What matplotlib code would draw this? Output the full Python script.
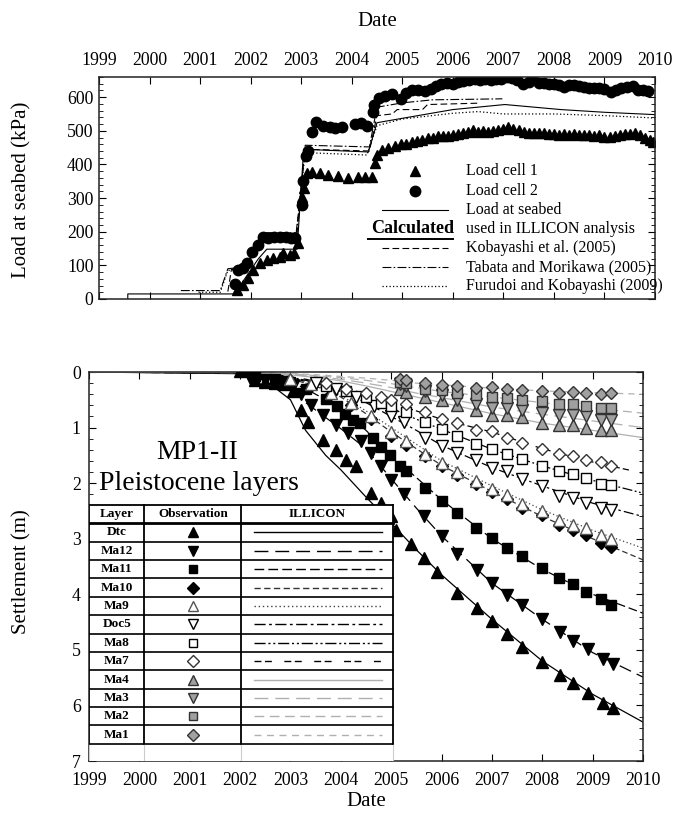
import matplotlib
matplotlib.use("Agg")
import matplotlib.pyplot as plt
from matplotlib.patches import Rectangle
from matplotlib.ticker import MultipleLocator

plt.rcParams['font.family'] = ['Liberation Serif', 'DejaVu Serif']

# ---------------- load at seabed (upper panel) ----------------
cell1_year = [2001.73, 2001.85, 2001.95, 2002.05, 2002.19, 2002.32, 2002.45, 2002.58, 2002.65, 2002.77,
              2002.85, 2002.94, 2003.02, 2003.06, 2003.12, 2003.22, 2003.38, 2003.54, 2003.73, 2003.93,
              2004.13, 2004.27, 2004.40, 2004.47, 2004.50, 2004.60, 2004.72, 2004.85, 2004.97, 2005.08,
              2005.20, 2005.30, 2005.40, 2005.50, 2005.60, 2005.70, 2005.80, 2005.90, 2006.00, 2006.10,
              2006.20, 2006.30, 2006.40, 2006.50, 2006.60, 2006.70, 2006.80, 2006.90, 2007.00, 2007.10,
              2007.20, 2007.30, 2007.40, 2007.50, 2007.60, 2007.70, 2007.80, 2007.90, 2008.00, 2008.10,
              2008.20, 2008.30, 2008.40, 2008.50, 2008.60, 2008.70, 2008.80, 2008.90, 2009.00, 2009.10,
              2009.20, 2009.30, 2009.40, 2009.50, 2009.60, 2009.70, 2009.80, 2009.90, 2009.97]
cell1_kpa = [27, 42, 62, 86, 107, 116, 122, 125, 136, 131,
             136, 166, 303, 330, 374, 378, 374, 368, 365, 359,
             362, 362, 362, 403, 427, 442, 450, 455, 460, 462,
             466, 470, 474, 478, 480, 483, 485, 483, 487, 490,
             492, 496, 503, 497, 500, 496, 500, 503, 506, 510,
             505, 503, 496, 492, 494, 492, 494, 490, 489, 488,
             490, 487, 489, 487, 486, 487, 484, 486, 482, 481,
             484, 488, 490, 489, 492, 487, 480, 472, 468]

cell2_year = [2001.69, 2001.75, 2001.85, 2001.93, 2002.03, 2002.15, 2002.25, 2002.35, 2002.47, 2002.58,
              2002.70, 2002.80, 2002.88, 2003.02, 2003.04, 2003.10, 2003.14, 2003.22, 2003.30, 2003.44,
              2003.57, 2003.67, 2003.80, 2004.07, 2004.19, 2004.30, 2004.43, 2004.45, 2004.53, 2004.66,
              2004.80, 2004.97, 2005.08, 2005.20, 2005.32, 2005.44, 2005.56, 2005.66, 2005.76, 2005.88,
              2006.00, 2006.10, 2006.21, 2006.32, 2006.43, 2006.54, 2006.64, 2006.75, 2006.85, 2006.96,
              2007.07, 2007.17, 2007.27, 2007.38, 2007.50, 2007.57, 2007.70, 2007.80, 2007.90, 2008.00,
              2008.10, 2008.20, 2008.30, 2008.40, 2008.50, 2008.60, 2008.70, 2008.80, 2008.90, 2009.00,
              2009.12, 2009.22, 2009.33, 2009.45, 2009.57, 2009.67, 2009.77, 2009.87]
cell2_kpa = [45, 86, 92, 107, 140, 160, 184, 180, 183, 185,
             183, 181, 180, 279, 350, 425, 440, 496, 525, 513,
             511, 509, 511, 519, 522, 513, 555, 576, 598, 603,
             610, 595, 613, 620, 622, 618, 625, 632, 638, 642,
             640, 645, 649, 652, 655, 652, 655, 652, 655, 655,
             659, 657, 650, 638, 645, 660, 641, 642, 638, 640,
             635, 630, 637, 635, 632, 630, 626, 628, 627, 623,
             615, 620, 627, 630, 632, 622, 620, 617]

illicon_year = [1999.57, 1999.57, 2001.68, 2002.15, 2002.32, 2002.92, 2003.05, 2004.33, 2004.50,
                2006.00, 2007.03, 2008.14, 2009.00, 2010.00]
illicon_kpa = [0, 15, 15, 119, 148, 148, 445, 437, 524, 563, 578, 563, 555, 548]

kobayashi_year = [2001.55, 2001.62, 2001.90, 2002.25, 2002.90, 2003.08, 2004.35, 2004.50, 2004.80,
                  2004.90, 2005.40, 2005.50, 2006.50]
kobayashi_kpa = [22, 88, 95, 195, 195, 445, 440, 545, 550, 563, 563, 578, 582]

tabata_year = [2000.62, 2001.40, 2001.55, 2001.90, 2002.22, 2002.92, 2003.08, 2004.35, 2004.50,
               2005.00, 2005.60, 2006.98]
tabata_kpa = [25, 25, 90, 95, 197, 197, 457, 452, 570, 583, 592, 595]

furudoi_year = [2000.97, 2001.40, 2001.55, 2001.90, 2002.25, 2002.90, 2003.08, 2004.30, 2004.50,
                2005.00, 2006.00, 2006.50, 2007.00, 2008.00, 2009.00, 2010.00]
furudoi_kpa = [20, 20, 85, 90, 190, 190, 435, 428, 515, 535, 552, 557, 550, 550, 545, 538]

# ---------------- settlement (lower panel) ----------------
layer_names = ['Dtc', 'Ma12', 'Ma11', 'Ma10', 'Ma9', 'Doc5', 'Ma8', 'Ma7', 'Ma4', 'Ma3', 'Ma2', 'Ma1']

dtc_year = [2002.0, 2002.3, 2002.5, 2002.7, 2002.9, 2003.05, 2003.2, 2003.35, 2003.65, 2003.9,
            2004.1, 2004.3, 2004.6, 2004.8, 2005.0, 2005.1, 2005.4, 2005.65, 2005.9, 2006.3,
            2006.7, 2007.0, 2007.3, 2007.6, 2008.0, 2008.35, 2008.6, 2008.9, 2009.2, 2009.4]
dtc_s = [-0.02, 0.15, 0.18, 0.2, 0.22, 0.35, 0.68, 0.9, 1.22, 1.4,
         1.58, 1.7, 2.18, 2.36, 2.6, 2.84, 3.1, 3.35, 3.6, 3.98,
         4.25, 4.48, 4.71, 4.94, 5.22, 5.45, 5.6, 5.78, 5.95, 6.04]

ma12_year = [2002.2, 2002.5, 2002.8, 2003.05, 2003.2, 2003.4, 2003.65, 2003.9, 2004.15, 2004.4,
             2004.6, 2004.8, 2005.0, 2005.25, 2005.65, 2006.0, 2006.3, 2006.7, 2007.0, 2007.3,
             2007.6, 2008.0, 2008.35, 2008.6, 2008.9, 2009.2, 2009.4]
ma12_s = [0.1, 0.15, 0.18, 0.25, 0.4, 0.6, 0.78, 0.95, 1.1, 1.25,
          1.45, 1.7, 1.95, 2.2, 2.6, 2.95, 3.28, 3.56, 3.8, 4.01,
          4.2, 4.45, 4.68, 4.84, 4.99, 5.17, 5.25]

ma11_year = [2002.3, 2002.7, 2003.0, 2003.3, 2003.7, 2003.92, 2004.08, 2004.25, 2004.38, 2004.64,
             2004.8, 2004.98, 2005.18, 2005.3, 2005.67, 2006.0, 2006.3, 2006.68, 2007.0, 2007.3,
             2007.6, 2008.0, 2008.33, 2008.6, 2008.87, 2009.17, 2009.37]
ma11_s = [0.08, 0.13, 0.18, 0.3, 0.49, 0.62, 0.75, 0.87, 0.92, 1.19,
          1.35, 1.5, 1.7, 1.78, 2.08, 2.32, 2.54, 2.8, 2.99, 3.16,
          3.31, 3.53, 3.71, 3.81, 3.96, 4.09, 4.19]

ma10_year = [2003.0, 2003.4, 2003.8, 2004.2, 2004.6, 2005.0, 2005.3, 2005.67, 2006.0, 2006.3,
             2006.68, 2007.0, 2007.3, 2007.6, 2008.0, 2008.33, 2008.6, 2008.87, 2009.17, 2009.37]
ma10_s = [0.15, 0.25, 0.4, 0.6, 0.85, 1.15, 1.32, 1.52, 1.7, 1.86,
          2.02, 2.16, 2.28, 2.44, 2.58, 2.75, 2.84, 2.93, 3.08, 3.15]

ma9_year = [2003.0, 2003.4, 2003.8, 2004.2, 2004.6, 2005.0, 2005.3, 2005.67, 2006.0, 2006.3,
            2006.68, 2007.0, 2007.3, 2007.6, 2008.0, 2008.33, 2008.6, 2008.87, 2009.17, 2009.37]
ma9_s = [0.13, 0.22, 0.37, 0.55, 0.8, 1.08, 1.25, 1.47, 1.64, 1.8,
         1.96, 2.1, 2.22, 2.38, 2.5, 2.66, 2.75, 2.81, 2.93, 3.0]

doc5_year = [2003.5, 2003.9, 2004.3, 2004.65, 2005.0, 2005.25, 2005.67, 2006.0, 2006.3, 2006.68,
             2007.0, 2007.3, 2007.6, 2008.0, 2008.33, 2008.6, 2008.87, 2009.17, 2009.37]
doc5_s = [0.2, 0.3, 0.45, 0.62, 0.8, 0.9, 1.19, 1.34, 1.45, 1.59,
          1.73, 1.78, 1.92, 2.06, 2.24, 2.27, 2.36, 2.44, 2.49]

ma8_year = [2003.7, 2004.1, 2004.5, 2004.8, 2005.0, 2005.3, 2005.67, 2006.0, 2006.3, 2006.68,
            2007.0, 2007.3, 2007.6, 2008.0, 2008.33, 2008.6, 2008.87, 2009.17, 2009.37]
ma8_s = [0.25, 0.35, 0.45, 0.55, 0.62, 0.72, 0.9, 1.03, 1.15, 1.3,
         1.39, 1.48, 1.57, 1.69, 1.79, 1.84, 1.91, 2.01, 2.04]

ma7_year = [2003.7, 2004.1, 2004.5, 2004.8, 2005.0, 2005.3, 2005.67, 2006.0, 2006.3, 2006.68,
            2007.0, 2007.3, 2007.6, 2008.0, 2008.33, 2008.6, 2008.87, 2009.17, 2009.37]
ma7_s = [0.2, 0.3, 0.38, 0.45, 0.5, 0.58, 0.72, 0.85, 0.91, 1.04,
         1.07, 1.19, 1.28, 1.38, 1.47, 1.52, 1.58, 1.62, 1.69]

grey_year = [2005.17, 2005.3, 2005.67, 2006.0, 2006.3, 2006.68, 2007.0, 2007.3, 2007.6, 2008.0,
             2008.33, 2008.6, 2008.87, 2009.17, 2009.37]
ma4_s = [0.3, 0.36, 0.45, 0.5, 0.6, 0.68, 0.77, 0.77, 0.81, 0.92, 0.95, 0.95, 1.0, 1.04, 1.04]
ma3_s = [0.22, 0.26, 0.35, 0.42, 0.5, 0.57, 0.65, 0.65, 0.68, 0.74, 0.77, 0.77, 0.8, 0.86, 0.86]
ma2_s = [0.18, 0.2, 0.3, 0.33, 0.38, 0.42, 0.45, 0.47, 0.5, 0.53, 0.58, 0.58, 0.61, 0.65, 0.65]
ma1_s = [0.12, 0.14, 0.2, 0.23, 0.26, 0.29, 0.27, 0.31, 0.32, 0.34, 0.37, 0.36, 0.37, 0.39, 0.38]

# ILLICON calculated settlement
calc_year = [1999, 2002, 2002.5, 2003, 2003.3, 2003.7, 2004, 2004.5, 2005, 2005.5, 2006, 2007, 2008, 2009, 2010]
dtc_calc = [0, 0.03, 0.15, 0.5, 1.05, 1.5, 1.76, 2.25, 2.72, 3.2, 3.65, 4.45, 5.2, 5.8, 6.3]
ma12_calc = [0, 0.02, 0.12, 0.3, 0.55, 0.82, 1.02, 1.38, 1.92, 2.45, 2.95, 3.8, 4.45, 5.05, 5.49]
ma11_calc = [0, 0.02, 0.08, 0.18, 0.3, 0.5, 0.65, 1.05, 1.5, 1.9, 2.3, 3.0, 3.55, 4.0, 4.34]
ma10_calc = [0, 0.01, 0.05, 0.12, 0.2, 0.32, 0.45, 0.75, 1.08, 1.38, 1.68, 2.15, 2.6, 3.0, 3.38]
ma9_calc = [0, 0.01, 0.05, 0.12, 0.2, 0.3, 0.42, 0.7, 1.0, 1.3, 1.6, 2.05, 2.48, 2.85, 3.17]
doc5_calc = [0, 0.01, 0.04, 0.1, 0.17, 0.25, 0.35, 0.55, 0.8, 1.05, 1.32, 1.72, 2.05, 2.36, 2.6]
ma8_calc = [0, 0.01, 0.04, 0.09, 0.15, 0.22, 0.3, 0.47, 0.65, 0.85, 1.03, 1.39, 1.69, 1.95, 2.18]
ma7_calc = [0, 0.01, 0.03, 0.08, 0.13, 0.2, 0.26, 0.4, 0.55, 0.7, 0.85, 1.08, 1.38, 1.62, 1.82]
ma4_calc = [0, 0.01, 0.02, 0.05, 0.08, 0.12, 0.16, 0.25, 0.35, 0.45, 0.55, 0.75, 0.92, 1.05, 1.18]
ma3_calc = [0, 0.01, 0.02, 0.04, 0.07, 0.1, 0.13, 0.2, 0.28, 0.38, 0.46, 0.63, 0.76, 0.88, 1.0]
ma2_calc = [0, 0.005, 0.015, 0.03, 0.05, 0.08, 0.1, 0.15, 0.21, 0.28, 0.35, 0.45, 0.55, 0.65, 0.74]
ma1_calc = [0, 0.005, 0.01, 0.02, 0.04, 0.06, 0.08, 0.11, 0.15, 0.2, 0.23, 0.29, 0.34, 0.37, 0.4]

BLACK = 'black'
GREY = '#b0b0b0'
GREYFILL = '#a0a0a0'

# (obs years, obs values, calc values, marker, face, edge, line colour, linestyle)
layers = [
    (dtc_year, dtc_s, dtc_calc, '^', BLACK, BLACK, BLACK, '-'),
    (ma12_year, ma12_s, ma12_calc, 'v', BLACK, BLACK, BLACK, (0, (10, 5))),
    (ma11_year, ma11_s, ma11_calc, 's', BLACK, BLACK, BLACK, (0, (7, 3))),
    (ma10_year, ma10_s, ma10_calc, 'D', BLACK, BLACK, '#333333', (0, (4.5, 2.5))),
    (ma9_year, ma9_s, ma9_calc, '^', 'white', '#555555', '#444444', (0, (1, 2))),
    (doc5_year, doc5_s, doc5_calc, 'v', 'white', BLACK, BLACK, (0, (8, 2.5, 2, 2.5))),
    (ma8_year, ma8_s, ma8_calc, 's', 'white', BLACK, BLACK, (0, (8, 2, 1.5, 2, 1.5, 2))),
    (ma7_year, ma7_s, ma7_calc, 'D', 'white', '#333333', BLACK, (0, (5, 2.5, 5, 9))),
    (grey_year, ma4_s, ma4_calc, '^', GREYFILL, '#333333', GREY, '-'),
    (grey_year, ma3_s, ma3_calc, 'v', GREYFILL, '#333333', GREY, (0, (10, 5))),
    (grey_year, ma2_s, ma2_calc, 's', GREYFILL, '#333333', GREY, (0, (7, 4))),
    (grey_year, ma1_s, ma1_calc, 'D', GREYFILL, '#333333', GREY, (0, (5, 4))),
]
marker_size = {'^': 8, 'v': 8, 's': 6.5, 'D': 6.3}

fig = plt.figure(figsize=(6.77, 8.16), dpi=100)
ax1 = fig.add_axes([0.1462, 0.6336, 0.8213, 0.2721])
ax2 = fig.add_axes([0.1315, 0.0674, 0.8183, 0.4767])

# ---- upper panel ----
ax1.plot(illicon_year, illicon_kpa, color=BLACK, lw=0.8, ls='-')
ax1.plot(kobayashi_year, kobayashi_kpa, color=BLACK, lw=0.8, ls=(0, (6, 3)))
ax1.plot(tabata_year, tabata_kpa, color=BLACK, lw=0.8, ls=(0, (8, 2, 1.5, 2)))
ax1.plot(furudoi_year, furudoi_kpa, color=BLACK, lw=0.9, ls=(0, (1, 1.8)))
ax1.plot(cell1_year, cell1_kpa, ls='none', marker='^', ms=7.5, color=BLACK)
ax1.plot(cell2_year, cell2_kpa, ls='none', marker='o', ms=7.5, color=BLACK)

ax1.set_xlim(1999, 2010)
ax1.set_ylim(0, 660)
ax1.set_xticks(range(1999, 2011))
ax1.set_yticks(range(0, 700, 100))
ax1.yaxis.set_minor_locator(MultipleLocator(20))
ax1.tick_params(axis='x', which='both', direction='in', top=True, bottom=True,
                labeltop=True, labelbottom=False, length=5, labelsize=12.8, pad=6)
ax1.tick_params(axis='y', which='both', direction='in', left=True, right=True, labelsize=12.8, pad=4)
ax1.tick_params(axis='y', which='major', length=5)
ax1.tick_params(axis='y', which='minor', length=3)

# legend drawn by hand
tr = ax1.transAxes
lx0, lx1, mx, tx = 0.509, 0.628, 0.568, 0.660
ax1.plot([mx], [0.577], marker='^', ms=7.5, color=BLACK, transform=tr, ls='none')
ax1.plot([mx], [0.486], marker='o', ms=7.5, color=BLACK, transform=tr, ls='none')
ax1.plot([lx0, lx1], [0.401, 0.401], color=BLACK, lw=0.8, transform=tr)
ax1.plot([lx0, lx1], [0.230, 0.230], color=BLACK, lw=0.8, ls=(0, (6, 3)), transform=tr)
ax1.plot([lx0, lx1], [0.144, 0.144], color=BLACK, lw=0.8, ls=(0, (8, 2, 1.5, 2)), transform=tr)
ax1.plot([lx0, lx1], [0.059, 0.059], color=BLACK, lw=0.9, ls=(0, (1, 1.8)), transform=tr)
legend_text = [(0.577, 'Load cell 1'), (0.486, 'Load cell 2'), (0.401, 'Load at seabed'),
               (0.315, 'used in ILLICON analysis'), (0.230, 'Kobayashi et al. (2005)'),
               (0.144, 'Tabata and Morikawa (2005)'), (0.059, 'Furudoi and Kobayashi (2009)')]
for ty, txt in legend_text:
    ax1.text(tx, ty, txt, transform=tr, fontsize=11.5, va='center', ha='left')
ax1.text(0.638, 0.318, 'Calculated', transform=tr, fontsize=13, fontweight='bold', va='center', ha='right')
ax1.plot([0.482, 0.638], [0.272, 0.272], color=BLACK, lw=1.4, transform=tr, solid_capstyle='butt')

# ---- lower panel ----
for yrs, obs, calc, mk, face, edge, lc, ls in layers:
    ax2.plot(calc_year, calc, color=lc, lw=0.9, ls=ls, zorder=2)
    ax2.plot(yrs, obs, ls='none', marker=mk, ms=marker_size[mk], mfc=face, mec=edge, mew=1.0, zorder=3)

ax2.set_xlim(1999, 2010)
ax2.set_ylim(7, 0)
ax2.set_xticks(range(1999, 2011))
ax2.set_yticks(range(0, 8))
ax2.yaxis.set_minor_locator(MultipleLocator(0.2))
ax2.tick_params(axis='x', which='both', direction='in', top=True, bottom=True, length=5,
                labelsize=12.8, pad=8)
ax2.tick_params(axis='y', which='both', direction='in', left=True, right=True, labelsize=12.8, pad=6)
ax2.tick_params(axis='y', which='major', length=5)
ax2.tick_params(axis='y', which='minor', length=3)

ax2.text(2001.14, 1.44, 'MP1-II', fontsize=20, ha='center', va='center', zorder=5)
ax2.text(1999.2, 2.0, 'Pleistocene layers', fontsize=20, ha='left', va='center', zorder=5)

# layer table
x_left, x_c1, x_c2, x_right = 1999.0, 2000.09, 2002.02, 2005.04
y_top, y_head, row_h = 2.39, 2.72, 0.331
y_bot = y_head + row_h * len(layer_names)
ax2.add_patch(Rectangle((x_left, y_top), x_right - x_left, 7 - y_top, facecolor='white',
                        edgecolor='none', zorder=10))
for x in (x_left, x_c1, x_c2, x_right):
    ax2.plot([x, x], [y_top, y_bot], color=BLACK, lw=1.3, zorder=11)
    ax2.plot([x, x], [y_bot, 7], color='#cccccc', lw=0.8, zorder=11)
ax2.plot([x_left, x_right], [y_top, y_top], color=BLACK, lw=1.3, zorder=11)
ax2.plot([x_left, x_right], [y_head, y_head], color=BLACK, lw=2.0, zorder=11)
for i in range(1, len(layer_names) + 1):
    yy = y_head + row_h * i
    ax2.plot([x_left, x_right], [yy, yy], color=BLACK, lw=1.2, zorder=11)

head_y = (y_top + y_head) / 2
ax2.text(1999.55, head_y, 'Layer', fontsize=9.5, fontweight='bold', ha='center', va='center', zorder=12)
ax2.text(2001.06, head_y, 'Observation', fontsize=9.5, fontweight='bold', ha='center', va='center', zorder=12)
ax2.text(2003.53, head_y, 'ILLICON', fontsize=9.5, fontweight='bold', ha='center', va='center', zorder=12)
for i, (name, lay) in enumerate(zip(layer_names, layers)):
    cy = y_head + row_h * (i + 0.5)
    mk, face, edge, lc, ls = lay[3], lay[4], lay[5], lay[6], lay[7]
    ax2.text(1999.55, cy, name, fontsize=9.5, fontweight='bold', ha='center', va='center', zorder=12)
    ax2.plot([2001.06], [cy], ls='none', marker=mk, ms=marker_size[mk] * 0.9, mfc=face, mec=edge,
             mew=1.0, zorder=12)
    ax2.plot([2002.28, 2004.82], [cy, cy], color=lc, lw=1.0, ls=ls, zorder=12)

for ax in (ax1, ax2):
    for sp in ax.spines.values():
        sp.set_linewidth(1.1)
        sp.set_color('#222222')

fig.text(377 / 677, 1 - 21 / 816, 'Date', fontsize=15, ha='center', va='center')
fig.text(366 / 677, 1 - 801 / 816, 'Date', fontsize=15, ha='center', va='center')
fig.text(22 / 677, 1 - 190 / 816, 'Load at seabed (kPa)', fontsize=15, rotation=90, ha='center', va='center')
fig.text(22 / 677, 1 - 572 / 816, 'Settlement (m)', fontsize=15, rotation=90, ha='center', va='center')

fig.savefig('out.png', dpi=100)
